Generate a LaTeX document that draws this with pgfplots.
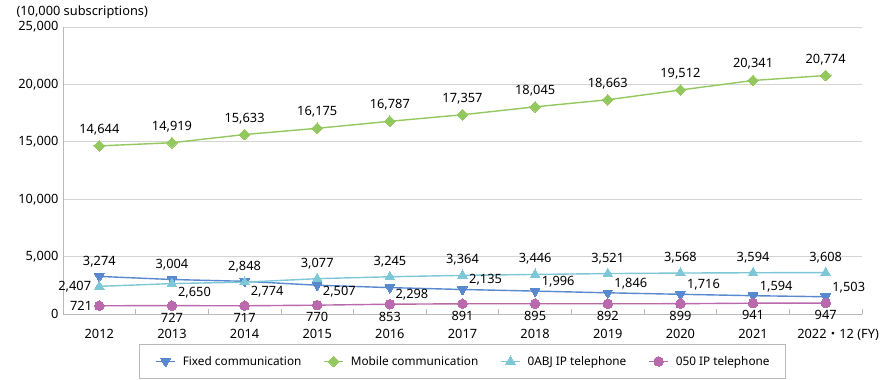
\documentclass[border=0pt]{standalone}
\usepackage{pgfplots}
\pgfplotsset{compat=1.18}
\usepackage{fontspec}
\setmainfont{Noto Sans}
\newfontfamily\cjk{Noto Sans CJK JP}
\definecolor{cfixed}{RGB}{88,137,206}
\definecolor{cmobile}{RGB}{146,200,94}
\definecolor{cabj}{RGB}{125,199,214}
\definecolor{cip}{RGB}{186,106,172}
\definecolor{gridc}{RGB}{212,212,212}
\definecolor{axisc}{RGB}{185,185,185}
\newcommand\lf{\fontsize{12.8}{14}\selectfont}

\pgfplotsset{
  lab/.style n args={3}{
    forget plot, draw=none, mark=none,
    nodes near coords,
    every node near coord/.append style={anchor=#1, xshift=#2, yshift=#3, text=black, inner sep=0pt, font=\lf},
  },
}

\begin{document}
\begin{tikzpicture}
\path[use as bounding box] (-63pt,-66pt) rectangle (823pt,314pt);
\begin{axis}[
  scale only axis,
  width=799pt, height=287pt,
  xmin=-0.5, xmax=10.5,
  ymin=0, ymax=25000,
  clip=false,
  axis x line*=bottom, axis y line*=left,
  axis line style={axisc, line width=0.8pt},
  xtick={0,...,10},
  xticklabels={2012,2013,2014,2015,2016,2017,2018,2019,2020,2021,{2022{\cjk ・}12\rlap{~(FY)}}},
  minor xtick={-0.5,0.5,...,10.5},
  tick align=inside,
  major tick length=0pt,
  minor tick length=5pt,
  minor tick style={axisc, line width=0.8pt},
  major tick style={draw=none},
  xticklabel style={anchor=base, yshift=-24pt, font=\lf},
  ytick={0,5000,...,25000},
  scaled y ticks=false,
  yticklabel style={font=\lf, xshift=-1pt, /pgf/number format/.cd, fixed, 1000 sep={,}},
  ymajorgrids, grid style={gridc, line width=0.8pt},
  /pgf/number format/.cd, fixed, 1000 sep={,}, assume math mode=true, /pgfplots/.cd,
  legend columns=4,
  legend style={at={(0.5,0)}, anchor=north, yshift=-30pt, draw=axisc, line width=0.8pt,
    font=\fontsize{11.8}{13}\selectfont, inner xsep=16pt, inner ysep=11.5pt,
    nodes={inner sep=0pt},
    /tikz/every odd column/.append style={column sep=7pt},
    /tikz/every even column/.append style={column sep=22pt}},
  legend image code/.code={\draw[mark repeat=2,mark phase=2] plot coordinates {(0pt,0pt) (9.5pt,0pt) (19pt,0pt)};},
]
\addplot[cfixed, line width=1.4pt, mark=triangle*, mark size=5.5pt, mark options={rotate=180, line width=0pt}] coordinates {
(0,3274) (1,3004) (2,2848) (3,2507) (4,2298) (5,2135) (6,1996) (7,1846) (8,1716) (9,1594) (10,1503)};
\addlegendentry{Fixed communication}
\addplot[cmobile, line width=1.4pt, mark=square*, mark size=3.8pt, mark options={rotate=45, line width=0pt}] coordinates {
(0,14644) (1,14919) (2,15633) (3,16175) (4,16787) (5,17357) (6,18045) (7,18663) (8,19512) (9,20341) (10,20774)};
\addlegendentry{Mobile communication}
\addplot[cabj, line width=1.4pt, mark=triangle*, mark size=5.5pt, mark options={line width=0pt}] coordinates {
(0,2407) (1,2650) (2,2774) (3,3077) (4,3245) (5,3364) (6,3446) (7,3521) (8,3568) (9,3594) (10,3608)};
\addlegendentry{0ABJ IP telephone}
\addplot[cip, line width=1.4pt, mark=*, mark size=4.8pt, mark options={line width=0pt}] coordinates {
(0,721) (1,727) (2,717) (3,770) (4,853) (5,891) (6,895) (7,892) (8,899) (9,941) (10,947)};
\addlegendentry{050 IP telephone}
% labels
\addplot[lab={base}{0pt}{11pt}] coordinates {(0,3274) (1,3004) (2,2848)};
\addplot[lab={base west}{5.5pt}{-10.5pt}] coordinates {(3,2507) (4,2298)};
\addplot[lab={base west}{6.5pt}{5.5pt}] coordinates {(5,2135) (6,1996) (7,1846) (8,1716) (9,1594) (10,1503)};
\addplot[lab={base}{0pt}{12.5pt}] coordinates {(0,14644) (1,14919) (2,15633) (3,16175) (4,16787) (5,17357) (6,18045) (7,18663) (8,19512) (9,20341) (10,20774)};
\addplot[lab={base east}{-8pt}{-4.3pt}] coordinates {(0,2407)};
\addplot[lab={base west}{6pt}{-13pt}] coordinates {(1,2650) (2,2774)};
\addplot[lab={base}{0pt}{11.5pt}] coordinates {(3,3077) (4,3245) (5,3364) (6,3446) (7,3521) (8,3568) (9,3594) (10,3608)};
\addplot[lab={base east}{-7pt}{-4.3pt}] coordinates {(0,721)};
\addplot[lab={base}{0pt}{-16.8pt}] coordinates {(1,727) (2,717) (3,770) (4,853) (5,891) (6,895) (7,892) (8,899) (9,941) (10,947)};
\node[anchor=base west, font=\lf] at (rel axis cs:0,1) [xshift=-50pt, yshift=11pt] {(10,000 subscriptions)};
\end{axis}
\end{tikzpicture}
\end{document}
